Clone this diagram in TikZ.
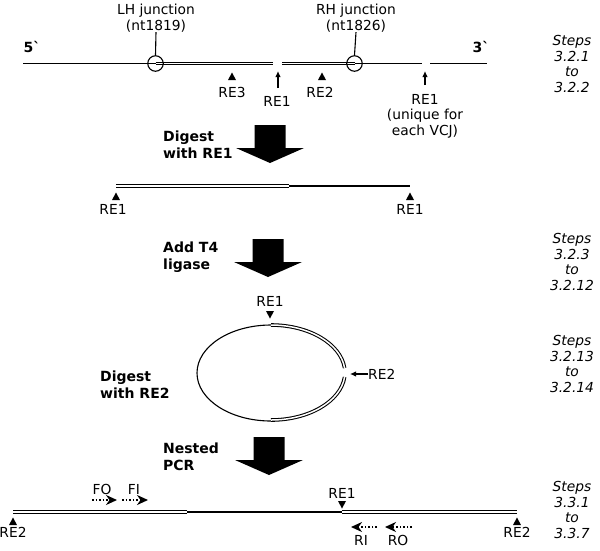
\documentclass[tikz,border=0pt]{standalone}
\usepackage{fontspec}
\setmainfont{DejaVu Sans}
\newfontfamily\nolig{DejaVu Sans}[Ligatures=TeXOff]
\usetikzlibrary{arrows.meta}
\begin{document}
\begin{tikzpicture}[x=1pt,y=-1pt,
  every node/.style={font=\fontsize{13.8}{15.5}\selectfont, inner sep=0pt, align=center},
  sgl/.style={line width=1.1pt},
  dbl/.style={double, double distance=1.5pt, line width=1.05pt},
  boldlbl/.style={font=\fontsize{14}{17}\selectfont\bfseries, align=left, anchor=west},
  stp/.style={font=\fontsize{13.8}{15.5}\selectfont\itshape, align=center},
  junc/.style={circle, draw, line width=1.1pt, minimum size=15.5pt, inner sep=0pt},
  smallarr/.style={sgl, -{Latex[length=6pt,width=5.5pt]}},
  primer/.style={line width=1.6pt, dotted, -{Stealth[length=11pt,width=10pt,inset=3.5pt]}},
  upt/.pic={\fill (-4,4) -- (4,4) -- (0,-3.5) -- cycle;},
  dnt/.pic={\fill (-4,-4) -- (4,-4) -- (0,3.5) -- cycle;},
  bigarrow/.pic={\fill (-15.5,0) -- (15.5,0) -- (15.5,23) -- (34,23) -- (0,38) -- (-34,23) -- (-15.5,23) -- cycle;}
]
\useasboundingbox (0,0) rectangle (600,550);

% ---------- top line ----------
\coordinate (t0) at (23,63.5);
\coordinate (tL) at (155.5,63.5);
\coordinate (tg1) at (273,63.5);
\coordinate (tg2) at (282,63.5);
\coordinate (tR) at (354.5,63.5);
\coordinate (tg3) at (422,63.5);
\coordinate (tg4) at (430,63.5);
\coordinate (t1) at (487,63.5);
\draw[sgl] (t0) -- (tL);
\draw[dbl] (tL) -- (tg1);
\draw[dbl] (tg2) -- (tR);
\draw[sgl] (tR) -- (tg3);
\draw[sgl] (tg4) -- (t1);
\node[junc] (cL) at (tL) {};
\node[junc] (cR) at (tR) {};
\node (lhj) at (156,18) {LH junction\\(nt1819)};
\node (rhj) at (356,18) {RH junction\\(nt1826)};
\draw[sgl] (lhj.south) -- (cL.north);
\draw[sgl] (rhj.south) -- (cR.north);
\node[font=\fontsize{14}{15.5}\selectfont\nolig\bfseries] (five) at (32,47) {5`};
\node[font=\fontsize{14}{15.5}\selectfont\nolig\bfseries] (three) at (481,47) {3`};

\pic at (232,76) {upt};
\node (re3) at (232,92) {RE3};
\coordinate (a1s) at (278,88);
\coordinate (a1e) at (278,71);
\draw[smallarr] (a1s) -- (a1e);
\node (re1m) at (277,101) {RE1};
\pic at (322,76) {upt};
\node (re2t) at (320,92) {RE2};
\coordinate (a2s) at (425,85);
\coordinate (a2e) at (425,71);
\draw[smallarr] (a2s) -- (a2e);
\node (re1u) at (425,116) {RE1\\(unique for\\each VCJ)};
\node[stp] (s1) at (572,64) {Steps\\3.2.1\\to\\3.2.2};

% ---------- digest RE1 ----------
\pic at (270,125) {bigarrow};
\node[boldlbl] (dig1) at (163,145) {Digest\\with RE1};

\coordinate (b0) at (116,186);
\coordinate (b1) at (289,186);
\coordinate (b2) at (410,186);
\draw[dbl] (b0) -- (b1);
\draw[sgl] (b1) -- (b2);
\pic at (116,196) {upt};
\pic at (410,196) {upt};
\node (re1b) at (113,209) {RE1};
\node (re1c) at (410,209) {RE1};

% ---------- ligase ----------
\pic at (268,239) {bigarrow};
\node[boldlbl] (lig) at (163,257) {Add T4\\ligase};
\node[stp] (s2) at (572,262) {Steps\\3.2.3\\to\\3.2.12};

% ---------- circle ----------
\coordinate (ctop) at (271,325);
\coordinate (cg2) at (344.6,377.02);
\draw[sgl] (ctop) arc[start angle=90, end angle=270, x radius=74pt, y radius=48pt];
\draw[dbl] (ctop) arc[start angle=90, end angle=6, x radius=74pt, y radius=48pt];
\draw[dbl] (cg2) arc[start angle=-6, end angle=-90, x radius=74pt, y radius=48pt];
\pic at (270,315) {dnt};
\node (re1r) at (270,301) {RE1};
\node[anchor=west] (re2r) at (368,374) {RE2};
\coordinate (a3e) at (350,374);
\draw[smallarr] (re2r.west) -- (a3e);
\node[boldlbl] (dig2) at (100,385) {Digest\\with RE2};
\node[stp] (s3) at (572,364) {Steps\\3.2.13\\to\\3.2.14};

% ---------- nested PCR ----------
\pic at (269,437) {bigarrow};
\node[boldlbl] (pcr) at (163,457) {Nested\\PCR};

\coordinate (p0) at (13,512);
\coordinate (p1) at (187,512);
\coordinate (p2) at (342,512);
\coordinate (p3) at (517,512);
\draw[dbl] (p0) -- (p1);
\draw[sgl] (p1) -- (p2);
\draw[dbl] (p2) -- (p3);
\pic at (13,521) {upt};
\pic at (517,521) {upt};
\node (re2a) at (13,532) {RE2};
\node (re2b) at (517,532) {RE2};
\pic at (342,505) {dnt};
\node (re1p) at (342,493) {RE1};

\node (fo) at (102,489) {FO};
\node (fi) at (134,489) {FI};
\coordinate (fo1) at (92,500); \coordinate (fo2) at (117,500);
\coordinate (fi1) at (122,500); \coordinate (fi2) at (148,500);
\draw[primer] (fo1) -- (fo2);
\draw[primer] (fi1) -- (fi2);
\node (ri) at (361,540) {RI};
\node (ro) at (398,540) {RO};
\coordinate (ri1) at (377,527); \coordinate (ri2) at (351,527);
\coordinate (ro1) at (412,527); \coordinate (ro2) at (385,527);
\draw[primer] (ri1) -- (ri2);
\draw[primer] (ro1) -- (ro2);
\node[stp] (s4) at (572,510) {Steps\\3.3.1\\to\\3.3.7};
\end{tikzpicture}
\end{document}
